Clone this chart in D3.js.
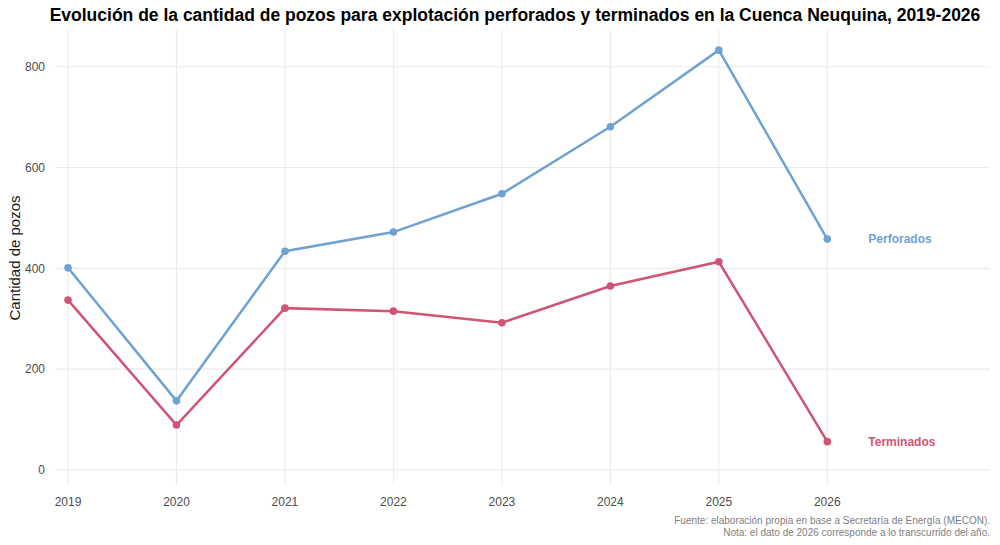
<!DOCTYPE html>
<html><head><meta charset="utf-8">
<script src="https://cdn.jsdelivr.net/npm/d3@7"></script>
<style>body{margin:0;background:#fff}svg{font-family:"Liberation Sans",Arial,sans-serif}</style>
</head><body><svg id="c" width="1000" height="545"></svg>
<script>
const years=[2019,2020,2021,2022,2023,2024,2025,2026];
const perforados=[401,137,434,472,548,681,833,458];
const terminados=[337,89,321,315,292,365,413,56];
const yTicks=[0,200,400,600,800];
const seriesNames=["Perforados","Terminados"];
const colors=["#6fa2d3","#d05474"];

const svg=d3.select("#c");
const x=d3.scaleLinear().domain([2018.88,2027.5]).range([55,990]);
const y=d3.scaleLinear().domain([-30,873]).range([485,30]);
const g=svg.append("g");
g.selectAll(".hg").data(yTicks).join("line").attr("x1",55).attr("x2",990)
 .attr("y1",d=>y(d)).attr("y2",d=>y(d)).attr("stroke","#ebebeb").attr("stroke-width",1.1);
g.selectAll(".vg").data(years).join("line").attr("y1",30).attr("y2",485)
 .attr("x1",d=>x(d)).attr("x2",d=>x(d)).attr("stroke","#ebebeb").attr("stroke-width",1.1);
g.selectAll(".yl").data(yTicks).join("text").attr("x",45).attr("y",d=>y(d)).attr("dy","0.35em")
 .attr("text-anchor","end").attr("font-size",12).attr("fill","#4d4d4d").text(d=>d);
g.selectAll(".xl").data(years).join("text").attr("x",d=>x(d)).attr("y",506)
 .attr("text-anchor","middle").attr("font-size",12).attr("fill","#4d4d4d").text(d=>d);
const line=d3.line().x((d,i)=>x(years[i])).y(d=>y(d));
[perforados,terminados].forEach((s,k)=>{
 svg.append("path").attr("d",line(s)).attr("fill","none").attr("stroke",colors[k]).attr("stroke-width",2.5);
 svg.selectAll(null).data(s).join("circle").attr("cx",(d,i)=>x(years[i])).attr("cy",d=>y(d)).attr("r",3.8).attr("fill",colors[k]);
 svg.append("text").attr("x",x(2026)+41).attr("y",y(s[s.length-1])).attr("dy","0.35em")
  .attr("font-size",12).attr("font-weight","bold").attr("fill",colors[k]).text(seriesNames[k]);
});
svg.append("text").attr("x",515).attr("y",21).attr("text-anchor","middle").attr("font-size",17.5)
 .attr("font-weight","bold").text("Evolución de la cantidad de pozos para explotación perforados y terminados en la Cuenca Neuquina, 2019-2026");
svg.append("text").attr("transform","translate(20,258) rotate(-90)").attr("text-anchor","middle")
 .attr("font-size",15).attr("fill","#1a1a1a").text("Cantidad de pozos");
svg.append("text").attr("x",990).attr("y",524).attr("text-anchor","end").attr("font-size",10).attr("fill","#808080")
 .text("Fuente: elaboración propia en base a Secretaría de Energía (MECON).");
svg.append("text").attr("x",990).attr("y",536).attr("text-anchor","end").attr("font-size",10).attr("fill","#808080")
 .text("Nota: el dato de 2026 corresponde a lo transcurrido del año.");
</script></body></html>
